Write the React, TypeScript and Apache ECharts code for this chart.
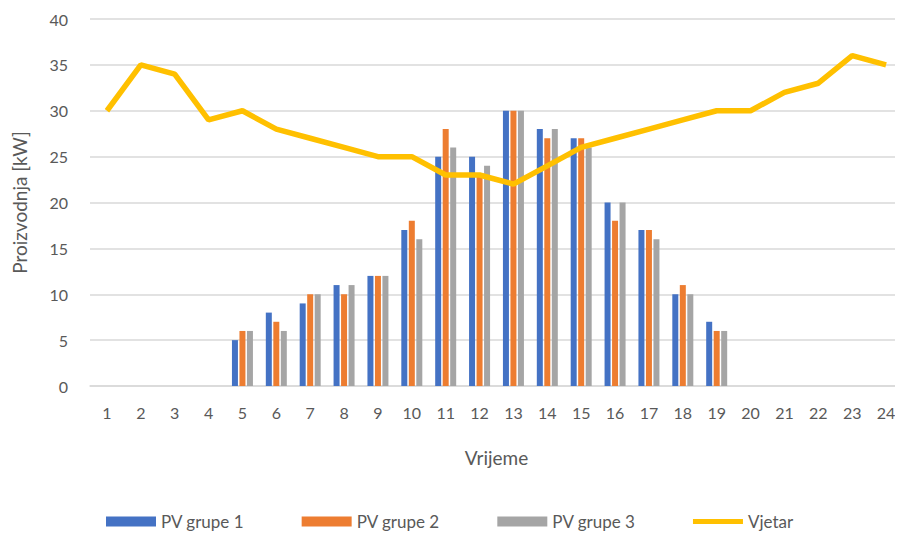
import React, { useEffect, useRef } from "react";
import * as echarts from "echarts";

const hours = ["1","2","3","4","5","6","7","8","9","10","11","12","13","14","15","16","17","18","19","20","21","22","23","24"];
const pv1 = [0,0,0,0,5,8,9,11,12,17,25,25,30,28,27,20,17,10,7,0,0,0,0,0];
const pv2 = [0,0,0,0,6,7,10,10,12,18,28,23,30,27,27,18,17,11,6,0,0,0,0,0];
const pv3 = [0,0,0,0,6,6,10,11,12,16,26,24,30,28,26,20,16,10,6,0,0,0,0,0];
const vjetar = [30,35,34,29,30,28,27,26,25,25,23,23,22,24,26,27,28,29,30,30,32,33,36,35];

const FONT = "Lato";

export default function App() {
  const ref = useRef<HTMLDivElement>(null);
  useEffect(() => {
    const chart = echarts.init(ref.current!, null, { renderer: "svg" });
    const barCommon = { type: "bar", barWidth: 6, barGap: "25%" };
    chart.setOption({
      animation: false,
      textStyle: { fontFamily: FONT },
      grid: { left: 82, right: 0, top: 11, bottom: 156, outerBoundsMode: "none", containLabel: false },
      legend: {
        left: 93,
        bottom: 7,
        itemWidth: 50,
        itemHeight: 10,
        itemGap: 57.5,
        textStyle: { fontFamily: FONT, fontSize: 17, color: "#595959" },
        data: [
          { name: "PV grupe 1", icon: "rect" },
          { name: "PV grupe 2", icon: "rect" },
          { name: "PV grupe 3", icon: "rect" },
          { name: "Vjetar", icon: "path://M0,0 h100 v10 h-100 z", itemStyle: { color: "#ffc000" } },
        ],
      },
      xAxis: {
        type: "category",
        data: hours,
        name: "Vrijeme",
        nameLocation: "middle",
        nameGap: 62,
        nameTextStyle: { fontFamily: FONT, fontSize: 19, color: "#595959" },
        axisLine: { lineStyle: { color: "#d9d9d9", width: 1.5 } },
        axisTick: { show: false },
        axisLabel: { fontFamily: FONT, fontSize: 16, color: "#595959", margin: 18, interval: 0 },
      },
      yAxis: {
        type: "value",
        min: 0,
        max: 40,
        interval: 5,
        name: "Proizvodnja [kW]",
        nameLocation: "middle",
        nameGap: 61,
        nameTextStyle: { fontFamily: FONT, fontSize: 19, color: "#595959" },
        axisLabel: { fontFamily: FONT, fontSize: 16, color: "#595959", margin: 22 },
        splitLine: { lineStyle: { color: "#d9d9d9", width: 1.5 } },
      },
      series: [
        { ...barCommon, name: "PV grupe 1", data: pv1, itemStyle: { color: "#4472c4" } },
        { ...barCommon, name: "PV grupe 2", data: pv2, itemStyle: { color: "#ed7d31" } },
        { ...barCommon, name: "PV grupe 3", data: pv3, itemStyle: { color: "#a5a5a5" } },
        {
          type: "line",
          name: "Vjetar",
          data: vjetar,
          symbol: "none",
          lineStyle: { color: "#ffc000", width: 5.5 },
          itemStyle: { color: "#ffc000" },
        },
      ],
    });
    return () => chart.dispose();
  }, []);
  return <div ref={ref} style={{ width: 895, height: 534 }} />;
}
